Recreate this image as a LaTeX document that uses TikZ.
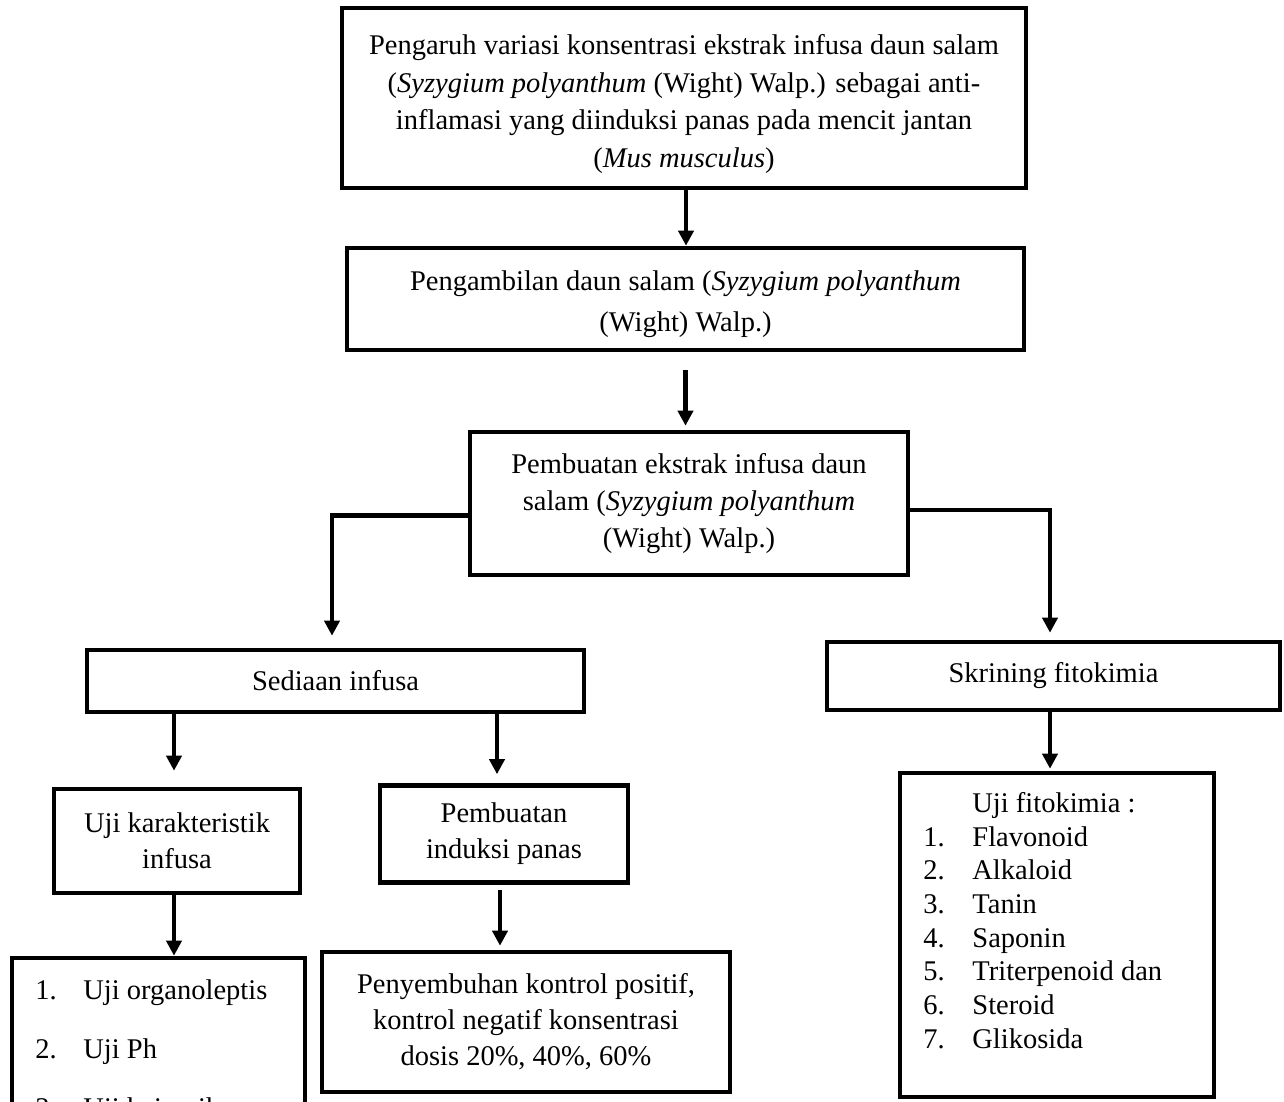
\documentclass[tikz,border=0pt]{standalone}
\usepackage{fontspec}
\setmainfont{Liberation Serif}
\usetikzlibrary{calc,arrows.meta}

\begin{document}
\begin{tikzpicture}[x=0.5pt,y=-0.5pt]

\tikzset{
  flowbox/.style={
    draw=black,
    line width=2.3pt,
    align=center,
    inner sep=0pt,
    font=\fontsize{14.25}{18}\selectfont
  },
  flowtext/.style={
    align=left,
    inner sep=0pt,
    anchor=north west
  },
  flowarrow/.style={
    draw=black,
    line width=2.3pt,
    -{Triangle[width=7.5pt,length=7.5pt]}
  }
}

\useasboundingbox (0,0) rectangle (1284,1102);

% Main column.
\node[flowbox, minimum width=342pt, minimum height=90pt,
      font=\fontsize{14.25}{18.75}\selectfont] (judul) at (684,98)
  {\rule{0pt}{15.8pt}Pengaruh variasi konsentrasi ekstrak infusa daun salam\\
   (\textit{Syzygium polyanthum} (Wight) Walp.) sebagai anti-\\
   inflamasi yang diinduksi panas pada mencit jantan\\
   (\textit{Mus musculus})};
\node[flowbox, minimum width=338.5pt, minimum height=51pt,
      font=\fontsize{14.25}{20.5}\selectfont] (pengambilan) at (685.5,299)
  {\rule{0pt}{14.8pt}Pengambilan daun salam (\textit{Syzygium polyanthum}\\ (Wight) Walp.)};
\node[flowbox, minimum width=219pt, minimum height=71.5pt,
      font=\fontsize{14.25}{18.5}\selectfont] (ekstrak) at (689,503.5)
  {Pembuatan ekstrak infusa daun\\ salam (\textit{Syzygium polyanthum}\\ (Wight) Walp.)};

% Left branch.
\node[flowbox, minimum width=248.5pt, minimum height=31pt] (sediaan) at (335.5,681) {Sediaan infusa};
\node[flowbox, minimum width=123pt, minimum height=52pt] (ujikar) at (177,841) {Uji karakteristik\\ infusa};
\node[flowbox, minimum width=124pt, minimum height=48.5pt] (induksi) at (504,834) {Pembuatan\\ induksi panas};
\node[flowbox, minimum width=146.5pt, minimum height=101pt] (ujibox) at (158.5,1059) {};
\node[flowtext, font=\fontsize{14.25}{29.5}\selectfont] (ujiteks) at (35,979)
  {\makebox[24pt][l]{1.}Uji organoleptis\\
   \makebox[24pt][l]{2.}Uji Ph\\
   \makebox[24pt][l]{3.}Uji kejernihan};
\node[flowbox, minimum width=204pt, minimum height=70pt] (penyembuhan) at (526,1022)
  {Penyembuhan kontrol positif,\\ kontrol negatif konsentrasi\\ dosis 20\%, 40\%, 60\%};

% Right branch.
\node[flowbox, minimum width=226.5pt, minimum height=34pt] (skrining) at (1053.5,676) {Skrining fitokimia};
\node[flowbox, minimum width=157pt, minimum height=162pt] (fitobox) at (1057,935) {};
\node[flowtext, font=\fontsize{14.25}{16.85}\selectfont] (fitoteks) at (923,792)
  {\hspace*{24.5pt}Uji fitokimia :\\
   \makebox[24.5pt][l]{1.}Flavonoid\\
   \makebox[24.5pt][l]{2.}Alkaloid\\
   \makebox[24.5pt][l]{3.}Tanin\\
   \makebox[24.5pt][l]{4.}Saponin\\
   \makebox[24.5pt][l]{5.}Triterpenoid dan\\
   \makebox[24.5pt][l]{6.}Steroid\\
   \makebox[24.5pt][l]{7.}Glikosida};

% Arrows.
\draw[flowarrow] ($(judul.south)+(2,0)$) -- ($(pengambilan.north)+(0.5,0)$);
\draw[flowarrow, shorten <=9pt, shorten >=2pt] (pengambilan.south) -- (pengambilan.south |- ekstrak.north);
\draw[flowarrow] ($(ekstrak.west)+(0,12)$) -| ($(sediaan.north)+(-3.5,-12)$);
\draw[flowarrow] ($(ekstrak.east)+(0,6.5)$) -| ($(skrining.north)+(-3.5,-7)$);
\draw[flowarrow, shorten >=8pt] ($(sediaan.south)+(-161.5,0)$) -- ($(ujikar.north)+(-3,0)$);
\draw[flowarrow, shorten >=4.5pt] ($(sediaan.south)+(161.5,0)$) -- ($(induksi.north)+(-7,0)$);
\draw[flowarrow] ($(ujikar.south)+(-3,0)$) -- ($(ujikar.south |- ujibox.north)+(-3,0)$);
\draw[flowarrow, shorten <=2.5pt, shorten >=2pt] ($(induksi.south)+(-4,0)$) -- ($(induksi.south |- penyembuhan.north)+(-4,0)$);
\draw[flowarrow, shorten >=1pt] ($(skrining.south)+(-3.5,0)$) -- ($(fitobox.north)+(-7,0)$);

\end{tikzpicture}
\end{document}
